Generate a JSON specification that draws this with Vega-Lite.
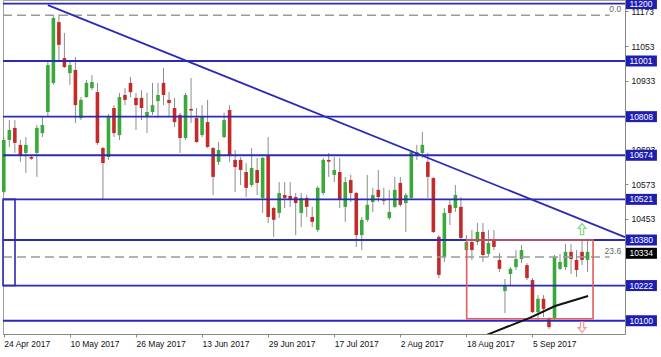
{
  "$schema": "https://vega.github.io/schema/vega-lite/v6.json",
  "width": 622,
  "height": 334,
  "autosize": {"type": "none"},
  "padding": {"left": 3, "top": 0, "right": 36, "bottom": 23},
  "background": "#ffffff",
  "config": {
    "view": {"stroke": "#a0a0a0", "strokeWidth": 1},
    "font": "Liberation Sans",
    "axis": {"labelOverlap": false, "labelFlush": false},
    "axisY": {"labelOverlap": false},
    "axisX": {"labelOverlap": false}
  },
  "datasets": {
    "candles": [
      {"date":"2017-04-24","i":0,"open":10547,"high":10737,"low":10540,"close":10727},
      {"date":"2017-04-25","i":1,"open":10727,"high":10796,"low":10703,"close":10762},
      {"date":"2017-04-26","i":2,"open":10769,"high":10796,"low":10682,"close":10717},
      {"date":"2017-04-27","i":3,"open":10710,"high":10727,"low":10651,"close":10675},
      {"date":"2017-04-28","i":4,"open":10682,"high":10737,"low":10613,"close":10710},
      {"date":"2017-05-01","i":5,"open":10668,"high":10675,"low":10658,"close":10662},
      {"date":"2017-05-02","i":6,"open":10682,"high":10779,"low":10599,"close":10769},
      {"date":"2017-05-03","i":7,"open":10751,"high":10807,"low":10737,"close":10779},
      {"date":"2017-05-04","i":8,"open":10824,"high":10998,"low":10807,"close":10987},
      {"date":"2017-05-05","i":9,"open":10925,"high":11161,"low":10918,"close":11150},
      {"date":"2017-05-08","i":10,"open":11136,"high":11161,"low":11004,"close":11057},
      {"date":"2017-05-09","i":11,"open":11011,"high":11098,"low":10977,"close":10980},
      {"date":"2017-05-10","i":12,"open":10959,"high":11004,"low":10918,"close":10987},
      {"date":"2017-05-11","i":13,"open":10970,"high":11015,"low":10786,"close":10848},
      {"date":"2017-05-12","i":14,"open":10803,"high":10876,"low":10796,"close":10866},
      {"date":"2017-05-15","i":15,"open":10876,"high":10935,"low":10873,"close":10925},
      {"date":"2017-05-16","i":16,"open":10907,"high":10952,"low":10900,"close":10928},
      {"date":"2017-05-17","i":17,"open":10893,"high":10925,"low":10710,"close":10717},
      {"date":"2017-05-18","i":18,"open":10699,"high":10703,"low":10519,"close":10647},
      {"date":"2017-05-19","i":19,"open":10668,"high":10817,"low":10658,"close":10810},
      {"date":"2017-05-22","i":20,"open":10838,"high":10848,"low":10737,"close":10751},
      {"date":"2017-05-23","i":21,"open":10744,"high":10890,"low":10727,"close":10876},
      {"date":"2017-05-24","i":22,"open":10883,"high":10907,"low":10848,"close":10866},
      {"date":"2017-05-25","i":23,"open":10925,"high":10946,"low":10876,"close":10893},
      {"date":"2017-05-26","i":24,"open":10873,"high":10890,"low":10762,"close":10848},
      {"date":"2017-05-29","i":25,"open":10873,"high":10900,"low":10796,"close":10838},
      {"date":"2017-05-30","i":26,"open":10807,"high":10890,"low":10751,"close":10824},
      {"date":"2017-05-31","i":27,"open":10824,"high":10925,"low":10814,"close":10848},
      {"date":"2017-06-01","i":28,"open":10862,"high":10925,"low":10803,"close":10883},
      {"date":"2017-06-02","i":29,"open":10925,"high":10977,"low":10848,"close":10883},
      {"date":"2017-06-05","i":30,"open":10866,"high":10893,"low":10807,"close":10855},
      {"date":"2017-06-06","i":31,"open":10838,"high":10873,"low":10772,"close":10789},
      {"date":"2017-06-07","i":32,"open":10814,"high":10821,"low":10682,"close":10734},
      {"date":"2017-06-08","i":33,"open":10734,"high":10890,"low":10727,"close":10883},
      {"date":"2017-06-09","i":34,"open":10835,"high":10942,"low":10786,"close":10829},
      {"date":"2017-06-12","i":35,"open":10803,"high":10838,"low":10717,"close":10720},
      {"date":"2017-06-13","i":36,"open":10744,"high":10848,"low":10737,"close":10807},
      {"date":"2017-06-14","i":37,"open":10789,"high":10866,"low":10699,"close":10703},
      {"date":"2017-06-15","i":38,"open":10699,"high":10703,"low":10536,"close":10599},
      {"date":"2017-06-16","i":39,"open":10651,"high":10720,"low":10640,"close":10692},
      {"date":"2017-06-19","i":40,"open":10737,"high":10821,"low":10734,"close":10796},
      {"date":"2017-06-20","i":41,"open":10831,"high":10848,"low":10651,"close":10675},
      {"date":"2017-06-21","i":42,"open":10658,"high":10692,"low":10547,"close":10633},
      {"date":"2017-06-22","i":43,"open":10658,"high":10668,"low":10571,"close":10623},
      {"date":"2017-06-23","i":44,"open":10616,"high":10647,"low":10529,"close":10561},
      {"date":"2017-06-26","i":45,"open":10571,"high":10699,"low":10564,"close":10630},
      {"date":"2017-06-27","i":46,"open":10623,"high":10665,"low":10536,"close":10578},
      {"date":"2017-06-28","i":47,"open":10526,"high":10668,"low":10474,"close":10665},
      {"date":"2017-06-29","i":48,"open":10675,"high":10737,"low":10439,"close":10460},
      {"date":"2017-06-30","i":49,"open":10491,"high":10495,"low":10391,"close":10450},
      {"date":"2017-07-03","i":50,"open":10474,"high":10581,"low":10456,"close":10543},
      {"date":"2017-07-04","i":51,"open":10536,"high":10581,"low":10491,"close":10526},
      {"date":"2017-07-05","i":52,"open":10533,"high":10581,"low":10495,"close":10522},
      {"date":"2017-07-06","i":53,"open":10529,"high":10543,"low":10397,"close":10508},
      {"date":"2017-07-07","i":54,"open":10474,"high":10543,"low":10425,"close":10526},
      {"date":"2017-07-10","i":55,"open":10526,"high":10536,"low":10460,"close":10495},
      {"date":"2017-07-11","i":56,"open":10460,"high":10495,"low":10425,"close":10443},
      {"date":"2017-07-12","i":57,"open":10415,"high":10567,"low":10408,"close":10561},
      {"date":"2017-07-13","i":58,"open":10543,"high":10665,"low":10536,"close":10658},
      {"date":"2017-07-14","i":59,"open":10658,"high":10682,"low":10599,"close":10652},
      {"date":"2017-07-17","i":60,"open":10606,"high":10668,"low":10581,"close":10623},
      {"date":"2017-07-18","i":61,"open":10616,"high":10665,"low":10491,"close":10519},
      {"date":"2017-07-19","i":62,"open":10495,"high":10599,"low":10443,"close":10581},
      {"date":"2017-07-20","i":63,"open":10588,"high":10606,"low":10512,"close":10543},
      {"date":"2017-07-21","i":64,"open":10543,"high":10547,"low":10356,"close":10397},
      {"date":"2017-07-24","i":65,"open":10397,"high":10460,"low":10345,"close":10450},
      {"date":"2017-07-25","i":66,"open":10450,"high":10606,"low":10443,"close":10502},
      {"date":"2017-07-26","i":67,"open":10512,"high":10561,"low":10477,"close":10536},
      {"date":"2017-07-27","i":68,"open":10554,"high":10623,"low":10512,"close":10529},
      {"date":"2017-07-28","i":69,"open":10522,"high":10561,"low":10502,"close":10516},
      {"date":"2017-07-31","i":70,"open":10456,"high":10554,"low":10450,"close":10477},
      {"date":"2017-08-01","i":71,"open":10495,"high":10599,"low":10491,"close":10554},
      {"date":"2017-08-02","i":72,"open":10578,"high":10599,"low":10495,"close":10502},
      {"date":"2017-08-03","i":73,"open":10508,"high":10543,"low":10408,"close":10536},
      {"date":"2017-08-04","i":74,"open":10526,"high":10692,"low":10519,"close":10685},
      {"date":"2017-08-07","i":75,"open":10675,"high":10710,"low":10658,"close":10685},
      {"date":"2017-08-08","i":76,"open":10682,"high":10755,"low":10665,"close":10710},
      {"date":"2017-08-09","i":77,"open":10651,"high":10682,"low":10526,"close":10599},
      {"date":"2017-08-10","i":78,"open":10595,"high":10599,"low":10404,"close":10408},
      {"date":"2017-08-11","i":79,"open":10391,"high":10397,"low":10248,"close":10259},
      {"date":"2017-08-14","i":80,"open":10321,"high":10491,"low":10304,"close":10474},
      {"date":"2017-08-15","i":81,"open":10502,"high":10519,"low":10432,"close":10474},
      {"date":"2017-08-16","i":82,"open":10491,"high":10571,"low":10477,"close":10536},
      {"date":"2017-08-17","i":83,"open":10495,"high":10529,"low":10380,"close":10387},
      {"date":"2017-08-18","i":84,"open":10345,"high":10397,"low":10311,"close":10373},
      {"date":"2017-08-21","i":85,"open":10373,"high":10415,"low":10311,"close":10345},
      {"date":"2017-08-22","i":86,"open":10373,"high":10439,"low":10363,"close":10408},
      {"date":"2017-08-23","i":87,"open":10408,"high":10439,"low":10304,"close":10328},
      {"date":"2017-08-24","i":88,"open":10332,"high":10415,"low":10321,"close":10370},
      {"date":"2017-08-25","i":89,"open":10380,"high":10415,"low":10345,"close":10356},
      {"date":"2017-08-28","i":90,"open":10311,"high":10335,"low":10269,"close":10280},
      {"date":"2017-08-29","i":91,"open":10203,"high":10245,"low":10127,"close":10224},
      {"date":"2017-08-30","i":92,"open":10262,"high":10286,"low":10224,"close":10280},
      {"date":"2017-08-31","i":93,"open":10286,"high":10345,"low":10276,"close":10314},
      {"date":"2017-09-01","i":94,"open":10314,"high":10363,"low":10300,"close":10345},
      {"date":"2017-09-04","i":95,"open":10293,"high":10300,"low":10241,"close":10248},
      {"date":"2017-09-05","i":96,"open":10241,"high":10248,"low":10127,"close":10130},
      {"date":"2017-09-06","i":97,"open":10130,"high":10189,"low":10096,"close":10176},
      {"date":"2017-09-07","i":98,"open":10176,"high":10189,"low":10113,"close":10141},
      {"date":"2017-09-08","i":99,"open":10106,"high":10113,"low":10071,"close":10078},
      {"date":"2017-09-11","i":100,"open":10106,"high":10328,"low":10103,"close":10321},
      {"date":"2017-09-12","i":101,"open":10280,"high":10332,"low":10276,"close":10304},
      {"date":"2017-09-13","i":102,"open":10286,"high":10366,"low":10276,"close":10339},
      {"date":"2017-09-14","i":103,"open":10339,"high":10366,"low":10262,"close":10314},
      {"date":"2017-09-15","i":104,"open":10311,"high":10345,"low":10252,"close":10276},
      {"date":"2017-09-18","i":105,"open":10339,"high":10384,"low":10293,"close":10311},
      {"date":"2017-09-19","i":106,"open":10311,"high":10380,"low":10269,"close":10339}
    ],
    "levels": [
      {"price": 11200, "label": "11200"},
      {"price": 11001, "label": "11001"},
      {"price": 10808, "label": "10808"},
      {"price": 10674, "label": "10674"},
      {"price": 10521, "label": "10521"},
      {"price": 10380, "label": "10380"},
      {"price": 10222, "label": "10222"},
      {"price": 10100, "label": "10100"}
    ],
    "fibs": [
      {"price": 11160, "label": "0.0"},
      {"price": 10321, "label": "23.6"}
    ],
    "current": [
      {"price": 10334, "label": "10334"}
    ],
    "trend": [
      {"i1": 8.0, "p1": 11195, "i2": 112.8, "p2": 10390}
    ],
    "support": [
      {"i": 87.7, "price": 10051},
      {"i": 95.5, "price": 10110},
      {"i": 100.1, "price": 10151},
      {"i": 106.1, "price": 10186}
    ],
    "zoneBlue": [
      {"i1": -0.15, "i2": 2.03, "p1": 10222, "p2": 10521}
    ],
    "zoneRed": [
      {"i1": 84.05, "i2": 107.0, "p1": 10107, "p2": 10380}
    ],
    "arrowsUp": [{"i": 105.0, "price": 10418}],
    "arrowsDown": [{"i": 105.0, "price": 10078}]
  },
  "layer": [
    {
      "data": {"name": "candles"},
      "mark": {"type": "rule", "color": "#8c8c8c", "strokeWidth": 1},
      "encoding": {
        "x": {
          "field": "i", "type": "quantitative",
          "scale": {"domain": [-0.15, 112.8], "nice": false, "zero": false},
          "axis": {
            "title": null, "grid": false,
            "values": [0, 12, 24, 36, 48, 60, 72, 84, 96],
            "labelExpr": "['24 Apr 2017','10 May 2017','26 May 2017','13 Jun 2017','29 Jun 2017','17 Jul 2017','2 Aug 2017','18 Aug 2017','5 Sep 2017'][datum.value/12]",
            "labelAlign": "left", "labelFont": "Liberation Sans", "labelFontSize": 8.5,
            "labelColor": "#111", "labelPadding": 2, "labelOverlap": false, "labelFlush": false,
            "tickSize": 3, "tickColor": "#888", "domainColor": "#888"
          }
        },
        "y": {
          "field": "low", "type": "quantitative",
          "scale": {"domain": [10054, 11212.6], "nice": false, "zero": false},
          "axis": {
            "title": null, "grid": false, "orient": "right",
            "values": [11173, 11053, 10933, 10693, 10573, 10453],
            "format": "d",
            "labelFont": "Liberation Sans", "labelFontSize": 8.5, "labelColor": "#111",
            "labelPadding": 3, "labelOverlap": false, "labelFlush": false,
            "tickSize": 3, "tickColor": "#888", "domainColor": "#888"
          }
        },
        "y2": {"field": "high"}
      }
    },
    {
      "data": {"name": "candles"},
      "mark": {"type": "rule", "strokeWidth": 3.6, "strokeCap": "butt"},
      "encoding": {
        "x": {"field": "i", "type": "quantitative"},
        "y": {"field": "open", "type": "quantitative"},
        "y2": {"field": "close"},
        "color": {"condition": {"test": "datum.close >= datum.open", "value": "#3aa93a"}, "value": "#c42a2a"}
      }
    },
    {
      "data": {"name": "levels"},
      "mark": {"type": "rule", "color": "#2b2bb5", "strokeWidth": 1.8},
      "encoding": {
        "y": {"field": "price", "type": "quantitative"}
      }
    },
    {
      "data": {"name": "fibs"},
      "mark": {"type": "rule", "color": "#9a9a9a", "strokeWidth": 1.5, "strokeDash": [9, 5]},
      "encoding": {
        "x": {"datum": -0.15, "type": "quantitative"},
        "x2": {"datum": 110.0},
        "y": {"field": "price", "type": "quantitative"}
      }
    },
    {
      "data": {"name": "fibs"},
      "mark": {"type": "text", "align": "right", "baseline": "bottom", "dy": -1, "fontSize": 8.5, "color": "#666", "font": "Liberation Sans"},
      "encoding": {
        "x": {"datum": 112.1, "type": "quantitative"},
        "y": {"field": "price", "type": "quantitative"},
        "text": {"field": "label"}
      }
    },
    {
      "data": {"name": "trend"},
      "mark": {"type": "rule", "color": "#2b2bb5", "strokeWidth": 1.8},
      "encoding": {
        "x": {"field": "i1", "type": "quantitative"},
        "x2": {"field": "i2"},
        "y": {"field": "p1", "type": "quantitative"},
        "y2": {"field": "p2"}
      }
    },
    {
      "data": {"name": "zoneBlue"},
      "mark": {"type": "rect", "filled": false, "stroke": "#2b2bb5", "strokeWidth": 1.6},
      "encoding": {
        "x": {"field": "i1", "type": "quantitative"},
        "x2": {"field": "i2"},
        "y": {"field": "p1", "type": "quantitative"},
        "y2": {"field": "p2"}
      }
    },
    {
      "data": {"name": "zoneRed"},
      "mark": {"type": "rect", "filled": false, "stroke": "#e25c5c", "strokeWidth": 1.6},
      "encoding": {
        "x": {"field": "i1", "type": "quantitative"},
        "x2": {"field": "i2"},
        "y": {"field": "p1", "type": "quantitative"},
        "y2": {"field": "p2"}
      }
    },
    {
      "data": {"name": "support"},
      "mark": {"type": "line", "color": "#111111", "strokeWidth": 2, "clip": true},
      "encoding": {
        "x": {"field": "i", "type": "quantitative"},
        "y": {"field": "price", "type": "quantitative"}
      }
    },
    {
      "data": {"name": "arrowsUp"},
      "mark": {"type": "point", "filled": false, "stroke": "#52c952", "strokeWidth": 1.2, "size": 121,
               "shape": "M0,-1L0.72,-0.1L0.3,-0.1L0.3,1L-0.3,1L-0.3,-0.1L-0.72,-0.1Z"},
      "encoding": {
        "x": {"field": "i", "type": "quantitative"},
        "y": {"field": "price", "type": "quantitative"}
      }
    },
    {
      "data": {"name": "arrowsDown"},
      "mark": {"type": "point", "filled": false, "stroke": "#ee7070", "strokeWidth": 1.2, "size": 121,
               "shape": "M0,1L0.72,0.1L0.3,0.1L0.3,-1L-0.3,-1L-0.3,0.1L-0.72,0.1Z"},
      "encoding": {
        "x": {"field": "i", "type": "quantitative"},
        "y": {"field": "price", "type": "quantitative"}
      }
    },
    {
      "data": {"name": "levels"},
      "mark": {"type": "rule", "color": "#1e1eb0", "strokeWidth": 11, "strokeCap": "butt"},
      "encoding": {
        "x": {"datum": 112.98, "type": "quantitative"},
        "x2": {"datum": 118.6},
        "y": {"field": "price", "type": "quantitative"}
      }
    },
    {
      "data": {"name": "current"},
      "mark": {"type": "rule", "color": "#000000", "strokeWidth": 11, "strokeCap": "butt"},
      "encoding": {
        "x": {"datum": 112.98, "type": "quantitative"},
        "x2": {"datum": 118.6},
        "y": {"field": "price", "type": "quantitative"}
      }
    },
    {
      "data": {"name": "levels"},
      "mark": {"type": "text", "align": "left", "baseline": "middle", "fontSize": 8.5, "color": "#ffffff", "font": "Liberation Sans"},
      "encoding": {
        "x": {"datum": 113.6, "type": "quantitative"},
        "y": {"field": "price", "type": "quantitative"},
        "text": {"field": "label"}
      }
    },
    {
      "data": {"name": "current"},
      "mark": {"type": "text", "align": "left", "baseline": "middle", "fontSize": 8.5, "color": "#ffffff", "font": "Liberation Sans"},
      "encoding": {
        "x": {"datum": 113.6, "type": "quantitative"},
        "y": {"field": "price", "type": "quantitative"},
        "text": {"field": "label"}
      }
    }
  ]
}
